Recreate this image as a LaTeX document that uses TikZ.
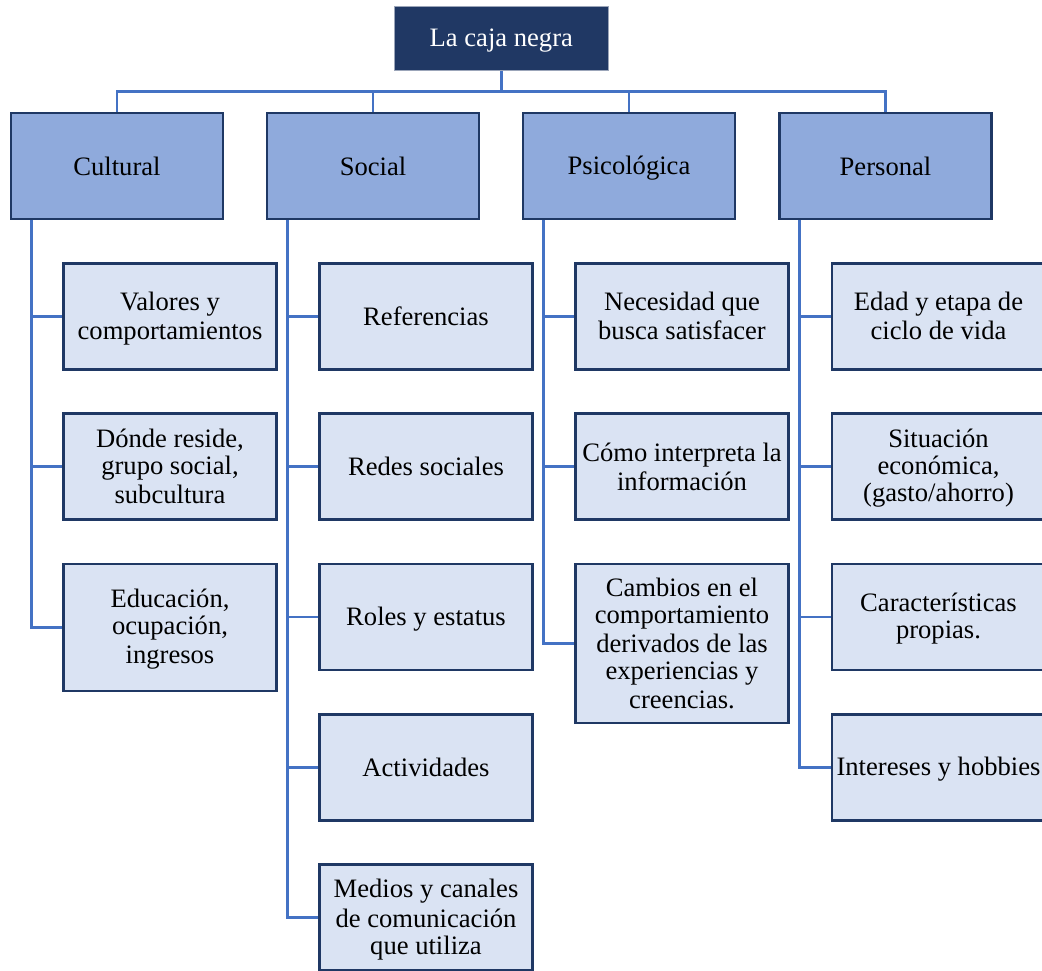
\documentclass[tikz,border=0pt]{standalone}
\usepackage{fontspec}
\setmainfont{Liberation Serif}
\usetikzlibrary{calc}
\definecolor{navy}{HTML}{203864}
\definecolor{midblue}{HTML}{8FAADC}
\definecolor{paleblue}{HTML}{DAE3F3}
\definecolor{linkblue}{HTML}{4472C4}
\definecolor{edgeblue}{HTML}{1F3864}
% uniform line strut: every text line gets the same height and depth
\newcommand\sv{\rule[-4.5pt]{0pt}{27pt}}
\tikzset{
  txt/.style={font={\fontsize{26.6}{27}\selectfont}, align=center, inner sep=0pt},
  rootbox/.style={txt, fill=navy, draw=navy!45!white, line width=1pt, text=white,
    minimum width=214pt, minimum height=64pt},
  catbox/.style={txt, fill=midblue, draw=edgeblue, line width=2.5pt,
    minimum width=212pt, minimum height=106pt},
  itembox/.style={txt, fill=paleblue, draw=edgeblue, line width=2.5pt,
    minimum width=213pt, minimum height=106pt},
  link/.style={draw=linkblue, line width=2.6pt}
}
\begin{document}
\begin{tikzpicture}[x=1pt, y=-1pt]
\useasboundingbox (0,0) rectangle (1042,970);
\clip (0,0) rectangle (1042,970);
\fill[white] (0,0) rectangle (1042,970);

% root
\node[rootbox] (root) at (501.3,38) {\raisebox{-1.5pt}{\sv La caja negra}};

% categories
\node[catbox] (cult) at (117,166) {\sv Cultural};
\node[catbox] (soc)  at (373,166) {\sv Social};
\node[catbox] (psi)  at (629,166) {\sv Psicológica};
\node[catbox] (pers) at (885.5,166) {\sv Personal};

% Cultural
\node[itembox] (c1) at (170,316.3) {\sv Valores y\\\sv comportamientos};
\node[itembox] (c2) at (170,466.6) {\sv Dónde reside,\\\sv grupo social,\\\sv subcultura};
\node[itembox, minimum height=127pt] (c3) at (170,627.5) {\sv Educación,\\\sv ocupación,\\\sv ingresos};

% Social
\node[itembox] (s1) at (426,316.3) {\sv Referencias};
\node[itembox] (s2) at (426,466.6) {\sv Redes sociales};
\node[itembox] (s3) at (426,617) {\sv Roles y estatus};
\node[itembox] (s4) at (426,767.3) {\sv Actividades};
\node[itembox] (s5) at (426,917.6) {\sv Medios y canales\\\sv de comunicación\\\sv que utiliza};

% Psicológica
\node[itembox] (p1) at (682,316.3) {\sv Necesidad que\\\sv busca satisfacer};
\node[itembox] (p2) at (682,466.6) {\sv Cómo interpreta la\\\sv información};
\node[itembox, minimum height=159pt] (p3) at (682,643.5) {\sv Cambios en el\\\sv comportamiento\\\sv derivados de las\\\sv experiencias y\\\sv creencias.};

% Personal
\node[itembox] (q1) at (938.5,316.3) {\sv Edad y etapa de\\\sv ciclo de vida};
\node[itembox] (q2) at (938.5,466.6) {\sv Situación\\\sv económica,\\\sv (gasto/ahorro)};
\node[itembox] (q3) at (938.5,617) {\sv Características\\\sv propias.};
\node[itembox] (q4) at (938.5,767.3) {\sv Intereses y hobbies};

% root to categories
\draw[link] (root.south) -- ++(0,21) coordinate (bus);
\draw[link] (cult.north) |- (bus) -| (pers.north);
\draw[link] (soc.north) -- (soc.north |- bus);
\draw[link] (psi.north) -- (psi.north |- bus);

% category spines
\coordinate (cspine) at ($(cult.south west)+(21.5,0)$);
\coordinate (sspine) at ($(soc.south west)+(21.5,0)$);
\coordinate (pspine) at ($(psi.south west)+(21.5,0)$);
\coordinate (qspine) at ($(pers.south west)+(21.5,0)$);

\draw[link] (cspine) |- (c3.west);
\draw[link] (c1.west) -- (c1.west -| cspine);
\draw[link] (c2.west) -- (c2.west -| cspine);

\draw[link] (sspine) |- (s5.west);
\draw[link] (s1.west) -- (s1.west -| sspine);
\draw[link] (s2.west) -- (s2.west -| sspine);
\draw[link] (s3.west) -- (s3.west -| sspine);
\draw[link] (s4.west) -- (s4.west -| sspine);

\draw[link] (pspine) |- (p3.west);
\draw[link] (p1.west) -- (p1.west -| pspine);
\draw[link] (p2.west) -- (p2.west -| pspine);

\draw[link] (qspine) |- (q4.west);
\draw[link] (q1.west) -- (q1.west -| qspine);
\draw[link] (q2.west) -- (q2.west -| qspine);
\draw[link] (q3.west) -- (q3.west -| qspine);
\end{tikzpicture}
\end{document}
